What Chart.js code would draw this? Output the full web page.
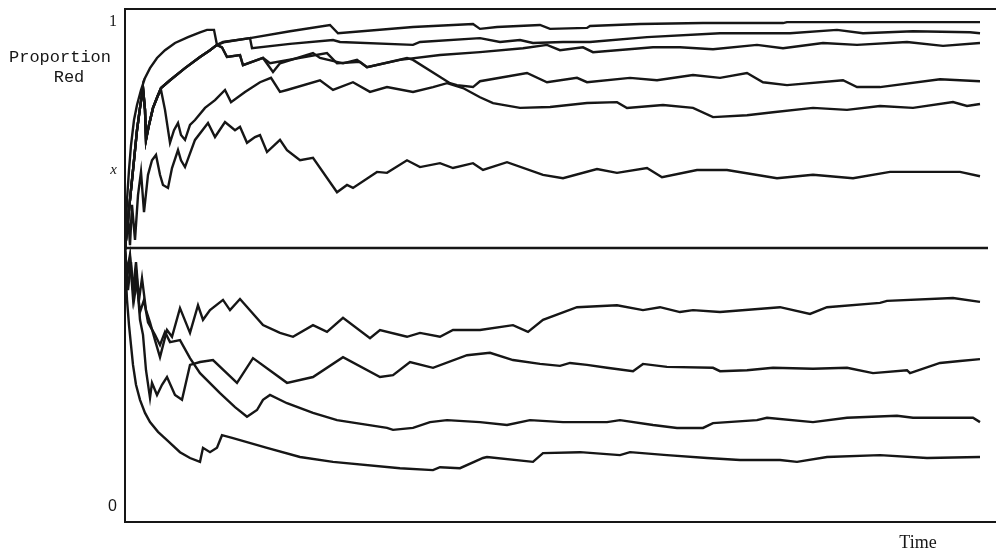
<!DOCTYPE html>
<html>
<head>
<meta charset="utf-8">
<script src="https://cdn.jsdelivr.net/npm/chart.js@4.4.1/dist/chart.umd.min.js"></script>
<style>
  body { margin: 0; background: #fff; }
  #urnChart { display: block; }
</style>
</head>
<body>
<canvas id="urnChart" width="996" height="551"></canvas>
<script>
// each path: [time, proportion red]
var pathA = [[0,0.530],[1,0.571],[2,0.633],[4,0.695],[6,0.746],[9,0.798],[12,0.829],[16,0.860],[20,0.885],[25,0.905],[32,0.926],[40,0.942],[50,0.957],[63,0.969],[75,0.979],[82,0.984],[89,0.984],[92,0.953],[98,0.959],[125,0.967],[165,0.981],[205,0.994],[213,0.977],[288,0.990],[348,0.996],[355,0.986],[372,0.990],[415,0.994],[425,0.986],[462,0.988],[465,0.992],[515,0.996],[578,0.998],[658,0.998],[662,1.0],[772,1.0],[855,1.0]];
var pathB = [[0,0.530],[3,0.592],[6,0.654],[9,0.715],[12,0.777],[15,0.823],[18,0.864],[20,0.819],[21,0.757],[24,0.788],[28,0.823],[33,0.849],[36,0.864],[45,0.880],[60,0.905],[75,0.928],[85,0.942],[92,0.953],[100,0.959],[125,0.967],[127,0.946],[165,0.955],[208,0.963],[215,0.959],[288,0.953],[295,0.959],[355,0.967],[375,0.959],[395,0.963],[408,0.957],[438,0.959],[465,0.959],[522,0.969],[595,0.977],[665,0.977],[712,0.984],[738,0.977],[788,0.981],[845,0.979],[855,0.977]];
var pathC = [[0,0.530],[3,0.592],[6,0.654],[9,0.715],[12,0.777],[15,0.823],[18,0.864],[20,0.819],[21,0.757],[24,0.788],[28,0.823],[33,0.849],[36,0.864],[45,0.880],[60,0.905],[75,0.928],[85,0.942],[92,0.953],[97,0.948],[102,0.928],[115,0.932],[118,0.911],[138,0.926],[148,0.897],[155,0.915],[188,0.936],[195,0.926],[218,0.915],[232,0.922],[242,0.907],[275,0.922],[315,0.932],[355,0.938],[398,0.946],[422,0.953],[435,0.942],[458,0.948],[468,0.938],[528,0.948],[555,0.948],[588,0.944],[632,0.953],[658,0.946],[698,0.957],[732,0.953],[782,0.959],[818,0.951],[855,0.957]];
var pathD = [[0,0.530],[3,0.592],[6,0.654],[9,0.715],[12,0.777],[15,0.823],[18,0.864],[20,0.819],[21,0.757],[24,0.788],[28,0.823],[33,0.849],[36,0.864],[45,0.880],[60,0.905],[75,0.928],[85,0.942],[92,0.953],[97,0.948],[102,0.928],[115,0.932],[118,0.911],[138,0.926],[145,0.915],[202,0.936],[212,0.915],[235,0.918],[242,0.907],[282,0.926],[288,0.922],[325,0.874],[332,0.870],[348,0.866],[355,0.878],[402,0.895],[422,0.876],[452,0.885],[462,0.876],[505,0.885],[532,0.880],[568,0.891],[595,0.885],[622,0.895],[638,0.876],[662,0.870],[718,0.880],[732,0.866],[755,0.866],[815,0.882],[855,0.878]];
var pathE = [[0,0.530],[3,0.592],[6,0.654],[9,0.715],[12,0.777],[15,0.823],[18,0.864],[20,0.819],[21,0.757],[24,0.788],[28,0.823],[33,0.849],[36,0.860],[40,0.819],[45,0.751],[49,0.777],[53,0.792],[56,0.767],[60,0.757],[65,0.788],[70,0.798],[80,0.823],[90,0.839],[100,0.860],[106,0.835],[120,0.856],[135,0.876],[146,0.885],[155,0.856],[162,0.860],[195,0.880],[208,0.860],[228,0.876],[245,0.856],[262,0.866],[288,0.856],[308,0.866],[322,0.874],[338,0.864],[355,0.845],[368,0.833],[395,0.823],[425,0.825],[462,0.833],[492,0.835],[502,0.823],[538,0.829],[568,0.823],[588,0.804],[622,0.808],[648,0.814],[688,0.823],[722,0.819],[755,0.827],[788,0.823],[828,0.835],[842,0.827],[855,0.831]];
var pathF = [[0,0.530],[3,0.602],[5,0.540],[7,0.623],[10,0.551],[13,0.643],[16,0.691],[19,0.608],[23,0.685],[27,0.715],[31,0.726],[35,0.685],[38,0.664],[43,0.658],[47,0.699],[53,0.736],[56,0.715],[60,0.701],[70,0.757],[83,0.792],[90,0.763],[100,0.794],[110,0.777],[115,0.784],[122,0.751],[130,0.763],[135,0.767],[142,0.732],[155,0.757],[162,0.736],[175,0.715],[188,0.720],[212,0.649],[222,0.664],[228,0.658],[252,0.691],[262,0.689],[282,0.715],[295,0.701],[315,0.709],[328,0.699],[348,0.709],[358,0.695],[382,0.711],[418,0.685],[438,0.678],[472,0.697],[492,0.689],[522,0.699],[537,0.680],[572,0.695],[602,0.695],[652,0.678],[688,0.685],[728,0.678],[765,0.691],[835,0.691],[855,0.682]];
var pathG = [[0,0.530],[2,0.485],[5,0.520],[8,0.447],[11,0.505],[14,0.427],[17,0.472],[21,0.406],[25,0.381],[30,0.344],[35,0.309],[42,0.365],[47,0.351],[55,0.410],[65,0.359],[73,0.416],[78,0.386],[85,0.406],[98,0.427],[105,0.406],[115,0.429],[138,0.375],[155,0.359],[168,0.351],[188,0.375],[202,0.361],[218,0.390],[245,0.348],[255,0.365],[282,0.351],[295,0.359],[315,0.351],[328,0.365],[355,0.365],[388,0.375],[403,0.361],[418,0.386],[452,0.412],[492,0.416],[518,0.406],[535,0.412],[555,0.402],[568,0.406],[595,0.402],[655,0.412],[685,0.398],[702,0.412],[755,0.421],[762,0.425],[828,0.431],[855,0.423]];
var pathH = [[0,0.530],[3,0.447],[6,0.505],[9,0.427],[12,0.468],[15,0.386],[18,0.355],[21,0.282],[25,0.225],[27,0.256],[32,0.231],[37,0.252],[42,0.268],[50,0.231],[57,0.221],[65,0.293],[75,0.299],[88,0.303],[112,0.256],[128,0.307],[162,0.256],[188,0.268],[218,0.309],[255,0.268],[268,0.272],[285,0.299],[308,0.287],[342,0.313],[365,0.318],[388,0.303],[415,0.295],[435,0.291],[445,0.297],[462,0.293],[482,0.287],[508,0.280],[518,0.295],[542,0.289],[588,0.287],[595,0.280],[622,0.282],[648,0.287],[688,0.285],[722,0.287],[748,0.276],[782,0.282],[785,0.276],[815,0.297],[835,0.301],[855,0.305]];
var pathI = [[0,0.530],[2,0.472],[5,0.513],[8,0.431],[11,0.478],[15,0.402],[19,0.427],[23,0.381],[30,0.355],[35,0.334],[40,0.361],[45,0.340],[55,0.344],[65,0.307],[75,0.276],[95,0.235],[110,0.206],[122,0.186],[132,0.200],[138,0.221],[145,0.231],[162,0.214],[188,0.194],[212,0.179],[262,0.163],[268,0.159],[288,0.163],[305,0.175],[322,0.179],[355,0.175],[382,0.169],[405,0.179],[438,0.175],[482,0.175],[495,0.179],[528,0.169],[552,0.163],[578,0.163],[588,0.173],[632,0.179],[642,0.184],[688,0.175],[722,0.184],[772,0.188],[788,0.184],[848,0.184],[855,0.175]];
var pathJ = [[0,0.530],[1,0.468],[2,0.427],[4,0.375],[6,0.334],[8,0.293],[11,0.252],[15,0.221],[20,0.194],[25,0.175],[33,0.155],[42,0.138],[55,0.113],[65,0.101],[75,0.093],[78,0.122],[85,0.113],[92,0.122],[97,0.148],[108,0.142],[142,0.122],[175,0.103],[208,0.093],[275,0.080],[308,0.076],[315,0.082],[335,0.080],[358,0.101],[362,0.103],[408,0.093],[418,0.111],[455,0.113],[495,0.107],[505,0.113],[542,0.107],[582,0.101],[615,0.097],[655,0.097],[672,0.093],[702,0.103],[755,0.107],[802,0.101],[855,0.103]];
var midLine = [[0,0.534],[863,0.534]];

var yTickValues = [0, 0.695, 1];
var yTickLabels = ['0', 'x', '1'];

var allPaths = [pathA, pathB, pathC, pathD, pathE, pathF, pathG, pathH, pathI, pathJ, midLine];
var ink = '#161616';

var datasets = allPaths.map(function(path) {
    return {
        data: path.map(function(p) { return { x: p[0], y: p[1] }; }),
        borderColor: ink,
        borderWidth: 2.4,
        pointRadius: 0,
        tension: 0,
        fill: false
    };
});

// axis captions drawn in the corners
var captions = {
    id: 'captions',
    afterDraw: function(chart) {
        var ctx = chart.ctx;
        var area = chart.chartArea;
        ctx.save();
        ctx.fillStyle = ink;
        ctx.textAlign = 'center';
        ctx.textBaseline = 'alphabetic';
        ctx.font = '17px "Liberation Mono", "DejaVu Sans Mono", monospace';
        ctx.fillText('Proportion', 60, 62);
        ctx.fillText('Red', 69, 82);
        ctx.font = '18px "Liberation Serif", "DejaVu Serif", serif';
        ctx.fillText('Time', 918, area.bottom + 26);
        ctx.restore();
    }
};

new Chart(document.getElementById('urnChart'), {
    type: 'line',
    data: { datasets: datasets },
    options: {
        responsive: false,
        animation: false,
        devicePixelRatio: 1,
        layout: { padding: 0 },
        plugins: {
            legend: { display: false },
            tooltip: { enabled: false }
        },
        scales: {
            x: {
                type: 'linear',
                min: 0,
                max: 871,
                ticks: { display: false },
                grid: { display: false, drawTicks: false },
                border: { display: true, color: ink, width: 2 },
                afterFit: function(scale) { scale.height = 29; }
            },
            xTop: {
                type: 'linear',
                position: 'top',
                min: 0,
                max: 871,
                ticks: { display: false },
                grid: { display: false, drawTicks: false },
                border: { display: true, color: ink, width: 2 },
                afterFit: function(scale) { scale.height = 9; }
            },
            y: {
                type: 'linear',
                min: -0.031,
                max: 1.027,
                grid: { display: false, drawTicks: false },
                border: { display: true, color: ink, width: 2 },
                afterBuildTicks: function(scale) {
                    scale.ticks = yTickValues.map(function(v) { return { value: v }; });
                },
                afterFit: function(scale) {
                    scale.width = 125;
                    scale.paddingTop = 0;
                    scale.paddingBottom = 0;
                },
                ticks: {
                    padding: 8,
                    color: ink,
                    callback: function(value) {
                        var i = yTickValues.indexOf(value);
                        return i >= 0 ? yTickLabels[i] : '';
                    },
                    font: function(c) {
                        if (c.tick && c.tick.value === 0.695) {
                            return { family: '"Liberation Serif", serif', size: 15, style: 'italic' };
                        }
                        if (c.tick && c.tick.value === 1) {
                            return { family: '"Liberation Serif", serif', size: 16 };
                        }
                        return { family: '"Liberation Sans", sans-serif', size: 16 };
                    }
                }
            }
        }
    },
    plugins: [captions]
});
</script>
</body>
</html>
